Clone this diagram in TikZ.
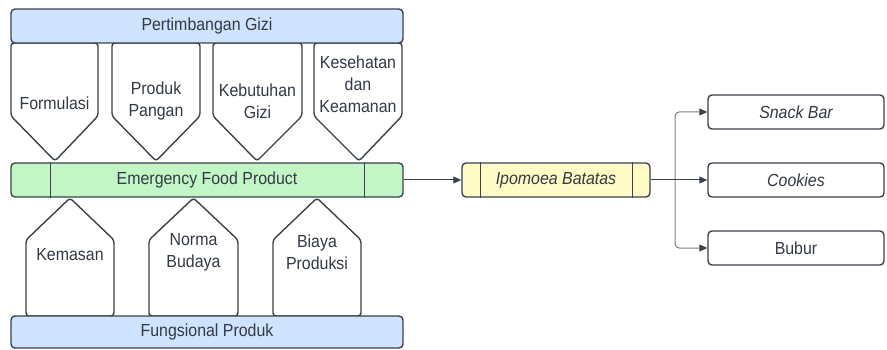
\documentclass[tikz,border=0pt]{standalone}
\usepackage{fontspec}
\setmainfont{Liberation Sans}[FakeStretch=0.91]
\usetikzlibrary{arrows.meta}
\definecolor{bord}{HTML}{3B424C}
\definecolor{txt}{HTML}{333A44}
\definecolor{bluef}{HTML}{CFE3FF}
\definecolor{greenf}{HTML}{C3F6C6}
\definecolor{yellowf}{HTML}{FFFBC6}
\definecolor{branchc}{HTML}{7D838B}
\tikzset{
  box/.style={draw=bord, line width=1.4pt, rounded corners=4pt, text=txt, inner sep=0pt, align=center},
  pent/.style={draw=bord, line width=1.4pt, fill=white, rounded corners=3pt},
  lbl/.style={text=txt, align=center, inner sep=0pt},
  conn/.style={draw=bord, line width=1pt, -{Triangle[length=8pt,width=7pt]}},
  branch/.style={draw=branchc, line width=1pt, rounded corners=4pt, arrows={-{Triangle[length=8pt,width=7pt,color=bord]}}},
}
\newcommand{\dpentshape}[3]{% left right tip-x (top pentagon, pointing down)
  \path[pent] (#1,43) -- (#2,43) -- (#2,116) -- (#3,161) -- (#1,116) -- cycle;}
\newcommand{\upentshape}[3]{% left right apex-x (bottom pentagon, pointing up)
  \path[pent] (#1,316) -- (#1,240) -- (#3,198) -- (#2,240) -- (#2,316) -- cycle;}
\begin{document}
\begin{tikzpicture}[x=1pt,y=-1pt, font=\fontsize{17.5}{22}\selectfont]
\useasboundingbox (0,0) rectangle (887,350);
% top pentagons
\dpentshape{11}{98}{55}
\dpentshape{112}{200}{156}
\dpentshape{213}{302}{257}
\dpentshape{314}{402}{359}
\node[lbl] (formulasi) at (54.5,103) {Formulasi};
\node[lbl] (produk) at (156,101) {Produk\\Pangan};
\node[lbl] (kebutuhan) at (257.5,101) {Kebutuhan\\Gizi};
\node[lbl] (kesehatan) at (358,84) {Kesehatan\\dan\\Keamanan};
% bottom pentagons
\upentshape{26}{114}{70}
\upentshape{149}{238}{193.5}
\upentshape{273}{361}{317}
\node[lbl] (kemasan) at (70,255) {Kemasan};
\node[lbl] (norma) at (193.5,252) {Norma\\Budaya};
\node[lbl] (biaya) at (317,252) {Biaya\\Produksi};
% bars
\node[box, fill=bluef, minimum width=392pt, minimum height=34pt] (pert) at (207,26) {Pertimbangan Gizi};
\node[box, fill=greenf, minimum width=392pt, minimum height=34pt] (efp) at (207,180) {Emergency Food Product};
\draw[bord, line width=1.4pt] ([xshift=40pt]efp.north west) -- ([xshift=40pt]efp.south west);
\draw[bord, line width=1.4pt] ([xshift=-39pt]efp.north east) -- ([xshift=-39pt]efp.south east);
\node[box, fill=bluef, minimum width=392pt, minimum height=32pt] (fung) at (207,332) {Fungsional Produk};
% ipomoea
\node[box, fill=yellowf, minimum width=188pt, minimum height=34pt] (ipo) at (556,180) {\itshape Ipomoea Batatas};
\draw[bord, line width=1.4pt] ([xshift=19pt]ipo.north west) -- ([xshift=19pt]ipo.south west);
\draw[bord, line width=1.4pt] ([xshift=-18pt]ipo.north east) -- ([xshift=-18pt]ipo.south east);
% products
\node[box, fill=white, minimum width=176pt, minimum height=34pt] (snack) at (796,112) {\itshape Snack Bar};
\node[box, fill=white, minimum width=176pt, minimum height=34pt] (cookies) at (796,180) {\itshape Cookies};
\node[box, fill=white, minimum width=176pt, minimum height=34pt] (bubur) at (796,248) {Bubur};
% connectors
\draw[conn] (efp.east) -- (ipo.west);
\coordinate (br) at (675,180);
\draw[branch] (br) |- (snack.west);
\draw[branch] (br) |- (bubur.west);
\draw[conn] (ipo.east) -- (cookies.west);
\end{tikzpicture}
\end{document}
